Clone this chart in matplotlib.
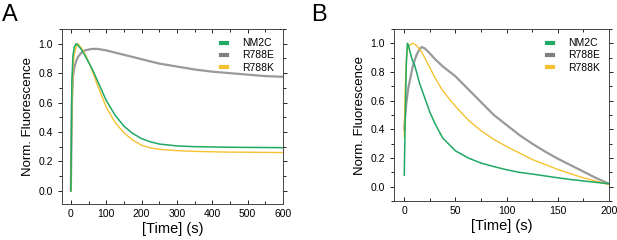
import matplotlib
matplotlib.use("Agg")
import matplotlib.pyplot as plt
from matplotlib.ticker import MultipleLocator

plt.rcParams['font.family'] = ['Liberation Sans', 'DejaVu Sans']

# panel A: 0-600 s
time_a = [0, 3, 6, 10, 15, 20, 30, 40, 50, 60, 75, 100, 125, 150, 175, 200,
          225, 250, 300, 350, 400, 450, 500, 550, 600]
nm2c_a = [0.0, 0.75, 0.92, 0.98, 1.0, 0.99, 0.96, 0.92, 0.875, 0.83, 0.75, 0.615,
          0.515, 0.44, 0.39, 0.355, 0.333, 0.318, 0.305, 0.30, 0.298, 0.296,
          0.295, 0.294, 0.293]
r788e_a = [0.0, 0.6, 0.78, 0.84, 0.88, 0.91, 0.94, 0.955, 0.96, 0.965, 0.965,
           0.955, 0.94, 0.925, 0.91, 0.895, 0.88, 0.865, 0.845, 0.825, 0.81,
           0.80, 0.79, 0.78, 0.775]
r788k_a = [0.0, 0.6, 0.85, 0.93, 0.98, 1.0, 0.97, 0.93, 0.88, 0.82, 0.72, 0.57,
           0.465, 0.395, 0.345, 0.31, 0.292, 0.282, 0.273, 0.268, 0.265, 0.263,
           0.262, 0.261, 0.26]

# panel B: 0-200 s
time_b = [0, 1, 2, 3, 4, 6, 8, 10, 12, 15, 17, 20, 25, 30, 37.5, 50, 62.5, 75,
          87.5, 100, 112.5, 125, 137.5, 150, 162.5, 175, 187.5, 200]
nm2c_b = [0.08, 0.5, 0.85, 1.0, 0.99, 0.93, 0.88, 0.85, 0.8, 0.72, 0.68, 0.62,
          0.52, 0.44, 0.34, 0.25, 0.2, 0.165, 0.14, 0.118, 0.1, 0.088, 0.075,
          0.062, 0.05, 0.04, 0.03, 0.02]
r788e_b = [0.4, 0.5, 0.58, 0.64, 0.69, 0.76, 0.83, 0.88, 0.92, 0.96, 0.975,
           0.965, 0.93, 0.89, 0.84, 0.77, 0.68, 0.59, 0.5, 0.43, 0.36, 0.3,
           0.245, 0.195, 0.15, 0.105, 0.06, 0.02]
r788k_b = [0.35, 0.7, 0.88, 0.95, 0.98, 0.99, 1.0, 0.995, 0.985, 0.96, 0.94,
           0.9, 0.83, 0.76, 0.67, 0.56, 0.465, 0.39, 0.33, 0.28, 0.235, 0.19,
           0.155, 0.12, 0.09, 0.062, 0.038, 0.015]

labels = ['NM2C', 'R788E', 'R788K']
colors = ['#1fa962', '#808080', '#f6c232']


def draw_panel(ax, t, series, xlim, xstep, xminor):
    # gray first so the others sit on top
    ax.plot(t, series[1], color=colors[1], lw=1.6, alpha=0.8, label=labels[1])
    ax.plot(t, series[2], color=colors[2], lw=1.0, label=labels[2])
    ax.plot(t, series[0], color=colors[0], lw=1.1, label=labels[0])
    ax.set_xlim(*xlim)
    ax.set_ylim(-0.09, 1.1)
    ax.xaxis.set_major_locator(MultipleLocator(xstep))
    ax.xaxis.set_minor_locator(MultipleLocator(xminor))
    ax.yaxis.set_major_locator(MultipleLocator(0.2))
    ax.yaxis.set_minor_locator(MultipleLocator(0.1))
    ax.tick_params(which='both', top=True, right=True, direction='in',
                   labelsize=7.5, width=0.6)
    ax.tick_params(axis='y', which='both', left=True, direction='out')
    ax.tick_params(which='major', length=3)
    ax.tick_params(which='minor', length=2)
    for s in ax.spines.values():
        s.set_linewidth(0.7)
        s.set_color('#444444')
    ax.set_xlabel('[Time] (s)', fontsize=10.5, labelpad=2)
    ax.set_ylabel('Norm. Fluorescence', fontsize=9.5, labelpad=3)
    h, l = ax.get_legend_handles_labels()
    order = [2, 0, 1]
    leg = ax.legend([h[i] for i in order], [l[i] for i in order],
                    loc='upper right', frameon=False, fontsize=7.5,
                    handlelength=0.6, handletextpad=1.4, labelspacing=0.2,
                    borderaxespad=0.5)
    for line in leg.get_lines():
        line.set_linewidth(3)
        line.set_alpha(1)


fig = plt.figure(figsize=(6.17, 2.4), dpi=100)
ax_a = fig.add_axes([0.1005, 0.15, 0.358, 0.729])
ax_b = fig.add_axes([0.6386, 0.1625, 0.3485, 0.7165])

draw_panel(ax_a, time_a, [nm2c_a, r788e_a, r788k_a], (-25, 600), 100, 50)
draw_panel(ax_b, time_b, [nm2c_b, r788e_b, r788k_b], (-10, 200), 50, 25)
ax_b.set_ylim(-0.1, 1.1)

fig.text(0.003, 0.985, 'A', fontsize=17, va='top', ha='left')
fig.text(0.505, 0.985, 'B', fontsize=17, va='top', ha='left')

fig.savefig('out.png', dpi=100)
